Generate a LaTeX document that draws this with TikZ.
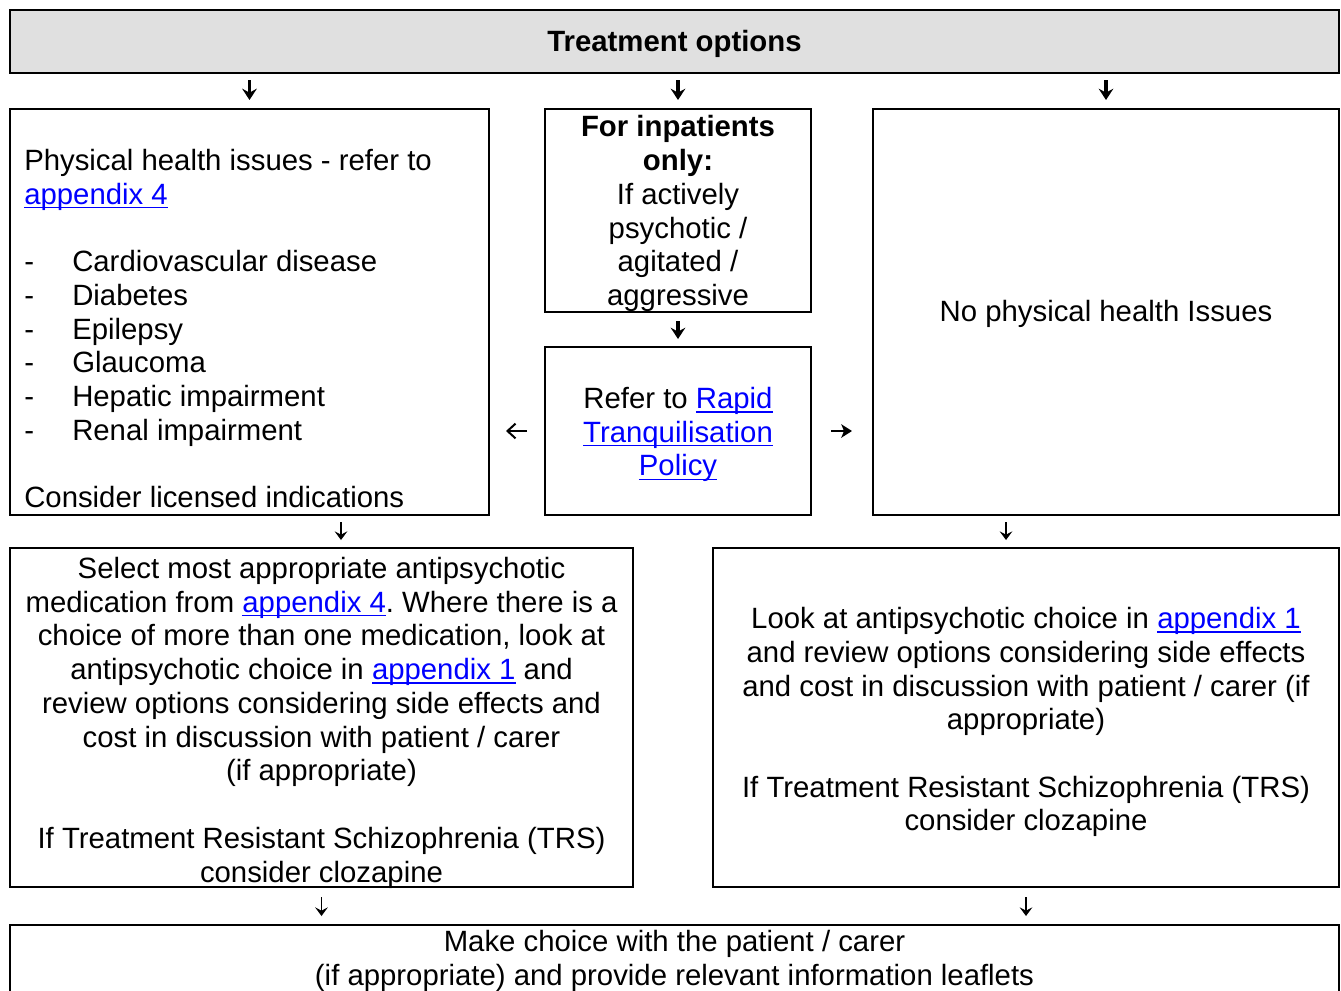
\documentclass[tikz,border=0pt]{standalone}
\usepackage{fontspec}
\setmainfont{Liberation Sans}
\usetikzlibrary{arrows.meta}
\definecolor{headgray}{HTML}{E0E0E0}
\definecolor{linkblue}{HTML}{0000FF}
\newlength{\linkwd}
\newcommand{\applink}[1]{\settowidth{\linkwd}{#1}{\color{linkblue}\rlap{\rule[-3pt]{\linkwd}{1.1pt}}#1}}
\frenchspacing

\begin{document}
\begin{tikzpicture}[x=0.75pt, y=-0.75pt,
  box/.style={draw, line width=1.5pt, inner sep=0pt},
  txt/.style={inner sep=0pt, font=\fontsize{22}{25.3}\selectfont},
  bigarr/.style={line width=2.3pt, -{Stealth[length=8.5pt, width=11pt, inset=3pt]}},
  thinarr/.style={line width=1.3pt, -{Stealth[length=6.5pt, width=9.5pt, inset=2.5pt]}},
  leftarr/.style={line width=1.5pt, -{Straight Barb[length=6pt, width=11pt]}},
  rightarr/.style={line width=2pt, -{Stealth[length=8pt, width=10pt, inset=2pt]}}]
  \useasboundingbox (0,0) rectangle (1341,990);
  \clip (0,0) rectangle (1341,990);

  % Header
  \node[box, fill=headgray, minimum width=996.75pt, minimum height=47.25pt] (options) at (674.5,41.5) {};
  \node[txt] (optionsnote) at (674.5,44.5) {\strut\textbf{Treatment options}};

  % First row of boxes
  \node[box, minimum width=359.25pt, minimum height=304.5pt] (physbox) at (249.5,312) {};
  \node[box, minimum width=199.5pt, minimum height=152.25pt] (inpatbox) at (678,210.5) {};
  \node[box, minimum width=199.5pt, minimum height=126pt] (rapidbox) at (678,431) {};
  \node[box, minimum width=349.5pt, minimum height=304.5pt] (nophysbox) at (1106,312) {};

  \node[txt] (nophysnote) at (1106,315) {\strut No physical health Issues};
  \node[txt, align=left, anchor=west] (physnote) at (24,332.5) {\strut Physical health issues - refer to\\
    \applink{appendix 4}\\[\baselineskip]
    \makebox[36pt][l]{-}Cardiovascular disease\\
    \makebox[36pt][l]{-}Diabetes\\
    \makebox[36pt][l]{-}Epilepsy\\
    \makebox[36pt][l]{-}Glaucoma\\
    \makebox[36pt][l]{-}Hepatic impairment\\
    \makebox[36pt][l]{-}Renal impairment\\[\baselineskip]
    Consider licensed indications\strut};
  \node[txt, align=center] (inpatnote) at (678,214.5) {\strut\textbf{For inpatients}\\ \textbf{only:}\\ If actively\\ psychotic /\\ agitated /\\ aggressive\strut};
  \node[txt, align=center] (rapidnote) at (678,435.5) {\strut Refer to \applink{Rapid}\\ \applink{Tranquilisation}\\ \applink{Policy}\strut};

  % Second row of boxes
  \node[box, minimum width=467.25pt, minimum height=254.25pt] (selectbox) at (321.5,717.5) {};
  \node[box, minimum width=469.5pt, minimum height=254.25pt] (lookbox) at (1026,717.5) {};

  \node[txt, align=center] (selectnote) at (321.5,723.5) {\strut Select most appropriate antipsychotic\\
    medication from \applink{appendix 4}. Where there is a\\
    choice of more than one medication, look at\\
    antipsychotic choice in \applink{appendix 1} and\\
    review options considering side effects and\\
    cost in discussion with patient / carer\\
    (if appropriate)\\[\baselineskip]
    If Treatment Resistant Schizophrenia (TRS)\\
    consider clozapine\strut};
  \node[txt, align=center] (looknote) at (1026,723) {\strut Look at antipsychotic choice in \applink{appendix 1}\\
    and review options considering side effects\\
    and cost in discussion with patient / carer (if\\
    appropriate)\\[\baselineskip]
    If Treatment Resistant Schizophrenia (TRS)\\
    consider clozapine\strut};

  % Final box
  \node[box, minimum width=996.75pt, minimum height=60pt] (choicebox) at (674.5,965) {};
  \node[txt, align=center] (choicenote) at (674.5,962) {\strut Make choice with the patient / carer\\ (if appropriate) and provide relevant information leaflets\strut};

  % Arrows
  \coordinate (colA) at (341,0);
  \coordinate (colB) at (1006,0);
  \draw[bigarr, shorten <=4.5pt, shorten >=6pt] (options.south -| physbox.north) -- (physbox.north);
  \draw[bigarr, shorten <=4.5pt, shorten >=6pt] (options.south -| inpatbox.north) -- (inpatbox.north);
  \draw[bigarr, shorten <=4.5pt, shorten >=6pt] (options.south -| nophysbox.north) -- (nophysbox.north);
  \draw[bigarr, shorten <=6pt, shorten >=5.25pt] (inpatbox.south) -- (rapidbox.north);
  \draw[leftarr, shorten <=12.75pt, shorten >=12pt] (rapidbox.west) -- (physbox.east |- rapidbox.west);
  \draw[rightarr, shorten <=14.25pt, shorten >=15pt] (rapidbox.east) -- (nophysbox.west |- rapidbox.east);
  \draw[thinarr, shorten <=4.5pt, shorten >=5.25pt] (physbox.south -| colA) -- (selectbox.north -| colA);
  \draw[thinarr, shorten <=4.5pt, shorten >=5.25pt] (nophysbox.south -| colB) -- (lookbox.north -| colB);
  \draw[thinarr, shorten <=6.75pt, shorten >=6pt] (selectbox.south) -- (choicebox.north -| selectbox.south);
  \draw[thinarr, shorten <=6.75pt, shorten >=6pt] (lookbox.south) -- (choicebox.north -| lookbox.south);
\end{tikzpicture}
\end{document}
